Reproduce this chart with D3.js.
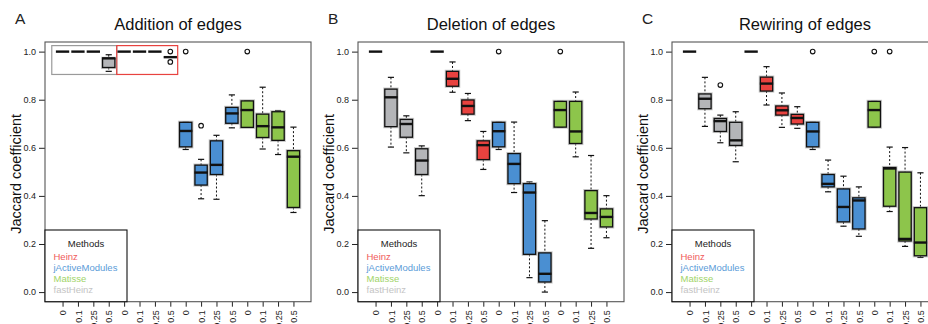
<!DOCTYPE html>
<html>
<head>
<meta charset="utf-8">
<script src="https://cdn.jsdelivr.net/npm/d3@7"></script>
<style>
  html, body { margin: 0; padding: 0; background: #fff; }
  svg { display: block; font-family: "Liberation Sans", Arial, sans-serif; }
</style>
</head>
<body>
<svg id="chart" width="928" height="324"></svg>
<script>
// ---- data ----
const methods = ["fastHeinz", "Heinz", "jActiveModules", "Matisse"];
const legendOrder = ["Heinz", "jActiveModules", "Matisse", "fastHeinz"];
const noiseLevels = ["0", "0.1", "0.25", "0.5"];
const panelLetters = ["A", "B", "C"];
const panelTitles = ["Addition of edges", "Deletion of edges", "Rewiring of edges"];
const yTicks = [0, 0.2, 0.4, 0.6, 0.8, 1.0];

// box stats per position: [lowWhisker, q1, median, q3, highWhisker]
const additionBoxes = [
  [1, 1, 1, 1, 1], [1, 1, 1, 1, 1], [1, 1, 1, 1, 1], [0.918, 0.934, 0.972, 0.972, 0.987],
  [1, 1, 1, 1, 1], [1, 1, 1, 1, 1], [1, 1, 1, 1, 1], [0.977, 0.977, 0.977, 0.977, 0.977],
  [0.593, 0.604, 0.670, 0.706, 0.706], [0.388, 0.445, 0.497, 0.528, 0.552],
  [0.386, 0.489, 0.529, 0.629, 0.652], [0.683, 0.702, 0.743, 0.768, 0.820],
  [0.685, 0.685, 0.757, 0.795, 0.795], [0.595, 0.643, 0.690, 0.740, 0.852],
  [0.572, 0.631, 0.685, 0.750, 0.755], [0.331, 0.352, 0.563, 0.588, 0.686]
];
const additionOutliers = [[8, 1.0], [8, 0.957], [9, 1.0], [10, 0.692], [13, 1.0]];

const deletionBoxes = [
  [1, 1, 1, 1, 1], [0.603, 0.688, 0.810, 0.844, 0.893],
  [0.579, 0.644, 0.699, 0.718, 0.733], [0.401, 0.489, 0.547, 0.596, 0.608],
  [1, 1, 1, 1, 1], [0.831, 0.856, 0.887, 0.918, 0.957],
  [0.713, 0.740, 0.774, 0.799, 0.826], [0.510, 0.551, 0.611, 0.629, 0.668],
  [0.593, 0.604, 0.669, 0.706, 0.706], [0.414, 0.451, 0.533, 0.576, 0.707],
  [0.060, 0.157, 0.414, 0.451, 0.458], [0.0, 0.042, 0.076, 0.163, 0.297],
  [0.686, 0.686, 0.757, 0.793, 0.793], [0.5625, 0.618, 0.668, 0.793, 0.832],
  [0.182, 0.304, 0.329, 0.422, 0.568], [0.226, 0.271, 0.3125, 0.346, 0.401]
];
const deletionOutliers = [[9, 1.0], [13, 1.0]];

const rewiringBoxes = [
  [1, 1, 1, 1, 1], [0.689, 0.7625, 0.804, 0.824, 0.893],
  [0.621, 0.668, 0.711, 0.722, 0.736], [0.542, 0.610, 0.631, 0.706, 0.750],
  [1, 1, 1, 1, 1], [0.778, 0.836, 0.867, 0.894, 0.9375],
  [0.685, 0.736, 0.756, 0.774, 0.828], [0.681, 0.699, 0.724, 0.739, 0.771],
  [0.593, 0.604, 0.668, 0.706, 0.706], [0.417, 0.4375, 0.450, 0.489, 0.549],
  [0.274, 0.292, 0.354, 0.429, 0.482], [0.232, 0.2625, 0.381, 0.392, 0.4375],
  [0.686, 0.686, 0.757, 0.793, 0.793], [0.335, 0.357, 0.514, 0.518, 0.603],
  [0.190, 0.2125, 0.221, 0.499, 0.601], [0.144, 0.151, 0.206, 0.351, 0.496]
];
const rewiringOutliers = [[3, 0.861], [9, 1.0], [13, 1.0], [14, 1.0]];

// highlight rectangles in panel A: [x0, x1, y0, y1, method]
const highlightRects = [[0.3, 4.52, 0.905, 1.025, "fastHeinz"], [4.52, 8.48, 0.905, 1.025, "Heinz"]];

const panelBoxes = [additionBoxes, deletionBoxes, rewiringBoxes];
const panelOutliers = [additionOutliers, deletionOutliers, rewiringOutliers];

// ---- styles ----
const fillColor = { fastHeinz: "#b4b5b8", Heinz: "#e8423f", jActiveModules: "#4a8fd2", Matisse: "#8dc54b" };
const legendColor = { fastHeinz: "#c4c4c4", Heinz: "#f05a5a", jActiveModules: "#5a9bd8", Matisse: "#a0d468" };

const svg = d3.select("#chart");
const panelLefts = [45, 358, 672];
const plotW = 266, plotTop = 42, plotBottom = 301.7;
const nPos = 16;

const y = d3.scaleLinear().domain([-0.04, 1.04]).range([plotBottom, plotTop]);

panelTitles.forEach((title, pi) => {
  const L = panelLefts[pi];
  const x = d3.scaleLinear().domain([0.5 - 0.04 * nPos, nPos + 0.5 + 0.04 * nPos]).range([L, L + plotW]);
  const g = svg.append("g");
  const boxW = x(0.8) - x(0);
  const capW = x(0.4) - x(0);

  // panel letter
  g.append("text").attr("x", L - 30).attr("y", 23.5).attr("font-size", 15.5).attr("fill", "#222")
    .text(panelLetters[pi]);
  // title
  g.append("text").attr("x", L + plotW / 2).attr("y", 29.5).attr("text-anchor", "middle")
    .attr("font-size", 16.5).attr("fill", "#111").text(title);
  // y label
  g.append("text").attr("transform", `translate(${L - 24},${(plotTop + plotBottom) / 2 + 2}) rotate(-90)`)
    .attr("text-anchor", "middle").attr("font-size", 14.5).attr("fill", "#111").text("Jaccard coefficient");

  // y axis
  const ya = g.append("g").attr("transform", `translate(${L},0)`)
    .call(d3.axisLeft(y).tickValues(yTicks).tickFormat(d3.format(".1f")).tickSize(6).tickPadding(3));
  ya.select(".domain").remove();
  ya.selectAll("line").attr("stroke", "#222");
  ya.selectAll("text").attr("font-size", 9).attr("fill", "#222").attr("font-family", "Liberation Sans, Arial, sans-serif");

  // x axis
  const posVals = d3.range(1, nPos + 1);
  const xa = g.append("g").attr("transform", `translate(0,${plotBottom})`)
    .call(d3.axisBottom(x).tickValues(posVals).tickFormat(d => noiseLevels[(d - 1) % 4]).tickSize(5));
  xa.select(".domain").remove();
  xa.selectAll("line").attr("stroke", "#222");
  xa.selectAll("text").attr("font-size", 9).attr("fill", "#222").attr("font-family", "Liberation Sans, Arial, sans-serif")
    .attr("text-anchor", "end").attr("x", 0).attr("y", 0).attr("dy", "0.35em")
    .attr("transform", "translate(0,8.5) rotate(-90)");

  // plot frame
  g.append("rect").attr("x", L).attr("y", plotTop).attr("width", plotW).attr("height", plotBottom - plotTop)
    .attr("fill", "none").attr("stroke", "#555").attr("stroke-width", 1.1);

  // highlight rectangles (panel A only)
  if (pi === 0) {
    highlightRects.forEach(r => {
      g.append("rect").attr("x", x(r[0])).attr("y", y(r[3])).attr("width", x(r[1]) - x(r[0]))
        .attr("height", y(r[2]) - y(r[3])).attr("fill", "none")
        .attr("stroke", r[4] === "Heinz" ? "#e8423f" : "#9a9a9a").attr("stroke-width", 1.2);
    });
  }

  // boxes
  panelBoxes[pi].forEach((s, i) => {
    const pos = i + 1;
    const m = methods[Math.floor(i / 4)];
    const cx = x(pos);
    const [lo, q1, med, q3, hi] = s;
    const bg = g.append("g");
    const degenerate = (q3 - q1) === 0 && (hi - lo) === 0;
    if (!degenerate) {
      // whiskers
      bg.append("line").attr("x1", cx).attr("x2", cx).attr("y1", y(hi)).attr("y2", y(q3))
        .attr("stroke", "#111").attr("stroke-width", 1).attr("stroke-dasharray", "2,2");
      bg.append("line").attr("x1", cx).attr("x2", cx).attr("y1", y(q1)).attr("y2", y(lo))
        .attr("stroke", "#111").attr("stroke-width", 1).attr("stroke-dasharray", "2,2");
      [hi, lo].forEach(v => bg.append("line").attr("x1", cx - capW / 2).attr("x2", cx + capW / 2)
        .attr("y1", y(v)).attr("y2", y(v)).attr("stroke", "#111").attr("stroke-width", 1.2));
      if (q3 > q1) {
        // soft shadow
        bg.append("rect").attr("x", cx - boxW / 2).attr("y", y(q3)).attr("width", boxW)
          .attr("height", y(q1) - y(q3)).attr("fill", "none").attr("stroke", "#9a9a9a")
          .attr("stroke-opacity", 0.55).attr("stroke-width", 3.2);
        bg.append("rect").attr("x", cx - boxW / 2).attr("y", y(q3)).attr("width", boxW)
          .attr("height", y(q1) - y(q3)).attr("fill", fillColor[m]).attr("stroke", "#111")
          .attr("stroke-width", 1.3);
      }
    }
    bg.append("line").attr("x1", cx - boxW / 2 - 0.5).attr("x2", cx + boxW / 2 + 0.5)
      .attr("y1", y(med)).attr("y2", y(med)).attr("stroke", "#111").attr("stroke-width", 2.4);
  });

  // outliers
  panelOutliers[pi].forEach(o => {
    g.append("circle").attr("cx", x(o[0])).attr("cy", y(o[1])).attr("r", 2.3)
      .attr("fill", "none").attr("stroke", "#111").attr("stroke-width", 1.1);
  });

  // legend
  const lw = 82, ltop = 230;
  const lg = g.append("g");
  lg.append("rect").attr("x", L).attr("y", ltop).attr("width", lw).attr("height", plotBottom - ltop)
    .attr("fill", "#fff").attr("stroke", "#111").attr("stroke-width", 1.1);
  lg.append("text").attr("x", L + 41).attr("y", 246.5).attr("text-anchor", "middle")
    .attr("font-size", 9.5).attr("fill", "#222").text("Methods");
  legendOrder.forEach((name, k) => {
    lg.append("text").attr("x", L + 8.5).attr("y", 259.5 + k * 11.1).attr("font-size", 9.5)
      .attr("fill", legendColor[name]).text(name);
  });
});
</script>
</body>
</html>
